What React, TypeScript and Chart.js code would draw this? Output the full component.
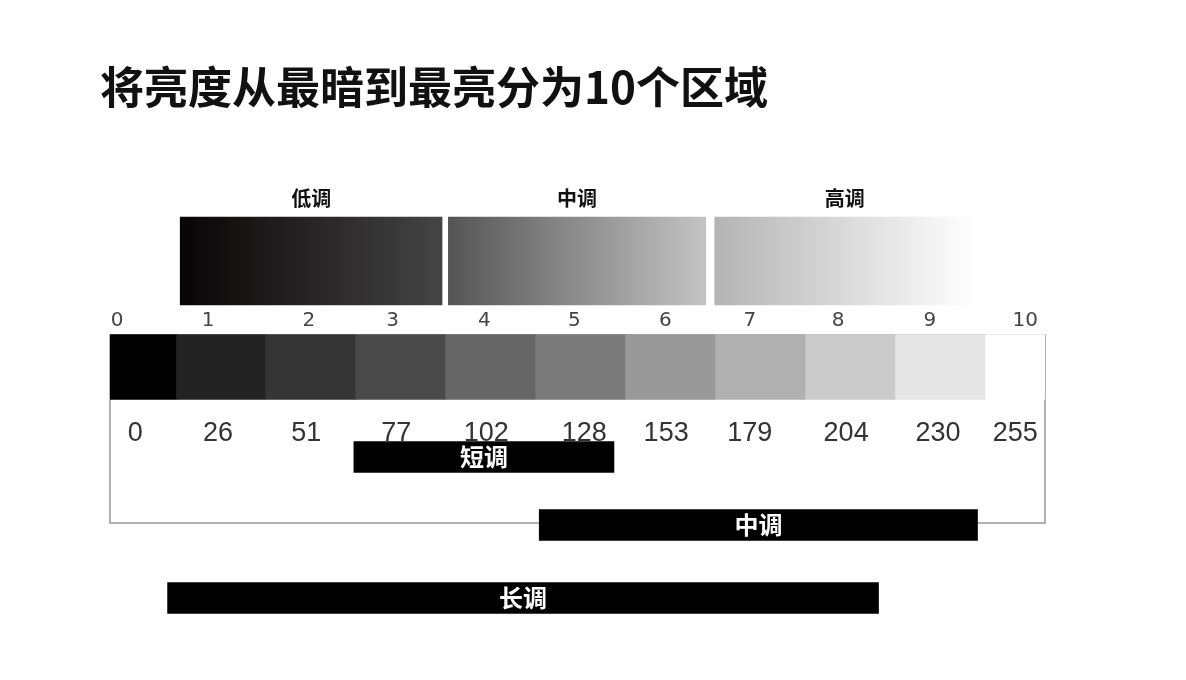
import React from "react";
import Chart from "chart.js/auto";

// x units: one brightness zone ~ 90px, y in page pixels
const zoneTicks = ["0", "1", "2", "3", "4", "5", "6", "7", "8", "9", "10"];
const zoneTickPos = [0.08, 1.09, 2.21, 3.14, 4.16, 5.16, 6.17, 7.11, 8.09, 9.11, 10.17];
const brightnessLabels = ["0", "26", "51", "77", "102", "128", "153", "179", "204", "230", "255"];
const brightnessPos = [0.28, 1.2, 2.18, 3.18, 4.18, 5.27, 6.18, 7.11, 8.18, 9.2, 10.06];
const cellEdges = [0, 0.74, 1.73, 2.73, 3.73, 4.73, 5.73, 6.73, 7.73, 8.73, 9.73, 10.39];
const cellGreys = [0, 35, 53, 74, 102, 123, 153, 176, 203, 230, 255];
const toneNames = ["低调", "中调", "高调"];
const toneRanges: [number, number][] = [[0.78, 3.69], [3.76, 6.62], [6.72, 9.61]];
const toneColors: [string, string][] = [["#080405", "#454545"], ["#555555", "#c4c4c4"], ["#b4b4b4", "#ffffff"]];
const rangeNames = ["短调", "中调", "长调"];
const rangeSpans: [number, number][] = [[2.71, 5.6], [4.77, 9.64], [0.64, 8.54]];
const rangeRows = [457, 525, 598];

const App = () => {
    const canvasRef = React.useRef<HTMLCanvasElement>(null);
    const chartRef = React.useRef<Chart | null>(null);

    React.useEffect(() => {
        if (!canvasRef.current) return;
        const ctx = canvasRef.current.getContext("2d");
        if (!ctx) return;
        if (chartRef.current) chartRef.current.destroy();

        const textPlugin = {
            id: "texts",
            beforeDatasetsDraw(chart: any) {
                const c = chart.ctx;
                const x = chart.scales.x;
                const y = chart.scales.y;
                c.save();
                c.fillStyle = "#111";
                c.font = "bold 44px 'Noto Sans CJK SC'";
                c.textAlign = "left";
                c.textBaseline = "alphabetic";
                c.fillText("将亮度从最暗到最亮分为10个区域", 100, 104);
                c.textAlign = "center";
                c.font = "bold 20px 'Noto Sans CJK SC'";
                toneNames.forEach((n, i) => {
                    const m = (toneRanges[i][0] + toneRanges[i][1]) / 2;
                    c.fillText(n, x.getPixelForValue(m), y.getPixelForValue(206));
                });
                c.fillStyle = "#444";
                c.font = "20px 'DejaVu Sans'";
                c.textBaseline = "middle";
                zoneTicks.forEach((t, i) => c.fillText(t, x.getPixelForValue(zoneTickPos[i]), y.getPixelForValue(321)));
                c.font = "27px 'Liberation Sans'";
                c.fillStyle = "#333";
                brightnessLabels.forEach((t, i) => c.fillText(t, x.getPixelForValue(brightnessPos[i]), y.getPixelForValue(434)));
                c.strokeStyle = "#999";
                c.lineWidth = 1.5;
                const l = x.getPixelForValue(0), r = x.getPixelForValue(10.39);
                c.strokeRect(l, y.getPixelForValue(335), r - l, y.getPixelForValue(523) - y.getPixelForValue(335));
                c.restore();
            },
            afterDatasetsDraw(chart: any) {
                const c = chart.ctx;
                const x = chart.scales.x;
                const y = chart.scales.y;
                c.save();
                c.fillStyle = "#fff";
                c.font = "bold 24px 'Noto Sans CJK SC'";
                c.textAlign = "center";
                c.textBaseline = "middle";
                rangeNames.forEach((n, i) => {
                    const m = (rangeSpans[i][0] + rangeSpans[i][1]) / 2;
                    c.fillText(n, x.getPixelForValue(m), y.getPixelForValue(rangeRows[i]));
                });
                c.restore();
            },
        };

        const grad = (from: number, to: number, c0: string, c1: string) => (context: any) => {
            const chart = context.chart;
            if (!chart.chartArea) return c0;
            const x = chart.scales.x;
            const g = chart.ctx.createLinearGradient(x.getPixelForValue(from), 0, x.getPixelForValue(to), 0);
            g.addColorStop(0, c0);
            g.addColorStop(1, c1);
            return g;
        };

        const datasets: any[] = [];
        toneRanges.forEach((rng, i) => {
            datasets.push({
                data: [{ x: rng, y: 261 }],
                backgroundColor: grad(rng[0], rng[1], toneColors[i][0], toneColors[i][1]),
                barThickness: 88,
            });
        });
        datasets.push({
            data: cellGreys.map((_, i) => ({ x: [cellEdges[i], cellEdges[i + 1]], y: 367 })),
            backgroundColor: cellGreys.map((g) => `rgb(${g},${g},${g})`),
            barThickness: 65,
        });
        rangeSpans.forEach((s, i) => {
            datasets.push({ data: [{ x: s, y: rangeRows[i] }], backgroundColor: "#000", barThickness: 31 });
        });

        chartRef.current = new Chart(ctx, {
            type: "bar",
            data: { datasets },
            plugins: [textPlugin],
            options: {
                animation: false,
                responsive: true,
                maintainAspectRatio: false,
                indexAxis: "y",
                layout: { padding: { left: 110, right: 141, top: 0, bottom: 0 } },
                plugins: { legend: { display: false }, tooltip: { enabled: false } },
                datasets: { bar: { grouped: false } } as any,
                scales: {
                    x: { type: "linear", min: 0, max: 10.39, display: false, offset: false },
                    y: { type: "linear", min: 0, max: 680, reverse: true, display: false, offset: false },
                },
            },
        });

        return () => {
            if (chartRef.current) chartRef.current.destroy();
        };
    }, []);

    return (
        <div style={{ position: "absolute", left: 0, top: 0, width: 1186, height: 680, background: "#fff" }}>
            <canvas ref={canvasRef} />
        </div>
    );
};

export default App;
